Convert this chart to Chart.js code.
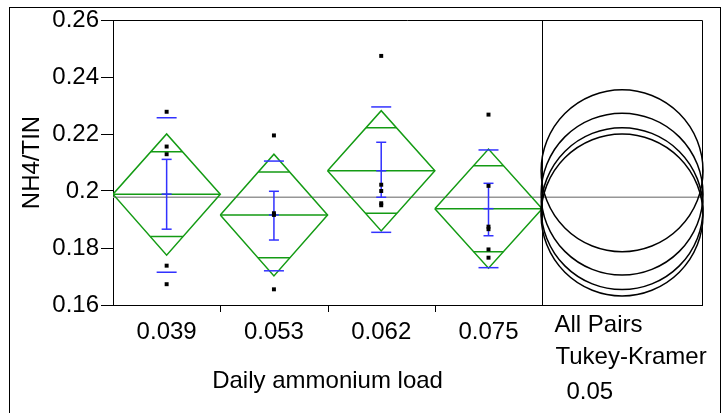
<!DOCTYPE html>
<html>
<head>
<meta charset="utf-8">
<script src="https://cdn.jsdelivr.net/npm/chart.js@4"></script>
<style>
  body { margin: 0; background: #fff; }
  #wrap { width: 725px; height: 413px; }
</style>
</head>
<body>
<div id="wrap"><canvas id="oneway"></canvas></div>
<script>
// values (oneway analysis of NH4/TIN by load)
const categories = ['0.039', '0.053', '0.062', '0.075'];
const yTicks = [0.16, 0.18, 0.2, 0.22, 0.24, 0.26];
const groupMeans = [0.1989, 0.1916, 0.2071, 0.1938];
const ciUpper = [0.2200, 0.2129, 0.2282, 0.2147];
const ciLower = [0.1775, 0.1702, 0.1860, 0.1729];
const overlapUpper = [0.2138, 0.2067, 0.2222, 0.2089];
const overlapLower = [0.1840, 0.1766, 0.1922, 0.1787];
const seUpper = [0.2111, 0.1999, 0.2171, 0.2027];
const seLower = [0.1866, 0.1828, 0.1978, 0.1843];
const sdUpper = [0.2257, 0.2105, 0.2295, 0.2144];
const sdLower = [0.1715, 0.1720, 0.1855, 0.1731];
const observations = [
  [0.2278, 0.2156, 0.2129, 0.1738, 0.1673],
  [0.2195, 0.1922, 0.1916, 0.1655],
  [0.2474, 0.2022, 0.2000, 0.1957, 0.1950],
  [0.2268, 0.2018, 0.1875, 0.1866, 0.1795, 0.1766]
];
const grandMean = 0.1978;
const circleRadius = 0.0284;
const xTitle = 'Daily ammonium load';
const yTitle = 'NH4/TIN';
const panelLabels = ['All Pairs', 'Tukey-Kramer', '0.05'];

const xMax = 5.49; // category area plus comparison-circle panel
const green = 'rgb(20,155,20)';
const blue = 'rgb(50,50,255)';
const font = '"Liberation Sans", Arial, sans-serif';
const fontSize = 24;

const datasets = [];

datasets.push({
  data: [{ x: 0, y: grandMean }, { x: xMax, y: grandMean }],
  showLine: true, borderColor: 'rgb(150,150,150)', borderWidth: 1.5,
  pointRadius: 0, order: 10
});

categories.forEach((c, i) => {
  const m = groupMeans[i];
  datasets.push({
    data: [
      { x: i, y: m }, { x: i + 0.5, y: ciUpper[i] }, { x: i + 1, y: m },
      { x: i + 0.5, y: ciLower[i] }, { x: i, y: m }
    ],
    showLine: true, borderColor: green, borderWidth: 1.5, pointRadius: 0, order: 5
  });
});

const markLines = [];
categories.forEach((c, i) => {
  const m = groupMeans[i];
  const c0 = i + 0.5;
  markLines.push({ x: i, y: m }, { x: i + 1, y: m }, { x: i, y: null });
  const hu = 0.5 * (1 - (overlapUpper[i] - m) / (ciUpper[i] - m));
  const hl = 0.5 * (1 - (m - overlapLower[i]) / (m - ciLower[i]));
  markLines.push({ x: c0 - hu, y: overlapUpper[i] }, { x: c0 + hu, y: overlapUpper[i] }, { x: c0, y: null });
  markLines.push({ x: c0 - hl, y: overlapLower[i] }, { x: c0 + hl, y: overlapLower[i] }, { x: c0, y: null });
});
datasets.push({
  data: markLines, showLine: true, spanGaps: false,
  borderColor: green, borderWidth: 1.5, pointRadius: 0, order: 4
});

const errBars = [];
categories.forEach((c, i) => {
  const c0 = i + 0.5;
  errBars.push({ x: c0, y: seLower[i] }, { x: c0, y: groupMeans[i] }, { x: c0, y: seUpper[i] }, { x: c0, y: null });
});
datasets.push({
  data: errBars, showLine: true, spanGaps: false,
  borderColor: blue, borderWidth: 1.5,
  pointStyle: 'line', pointRadius: 5, pointBorderColor: blue, pointBorderWidth: 1.5, order: 3
});

const sdMarks = [];
categories.forEach((c, i) => {
  sdMarks.push({ x: i + 0.5, y: sdUpper[i] }, { x: i + 0.5, y: sdLower[i] });
});
datasets.push({
  data: sdMarks, showLine: false,
  pointStyle: 'line', pointRadius: 10, pointBorderColor: blue, pointBorderWidth: 1.5, order: 2
});

const obsPts = [];
observations.forEach((vals, i) => vals.forEach(v => obsPts.push({ x: i + 0.5, y: v })));
datasets.push({
  data: obsPts, showLine: false,
  pointStyle: 'rect', pointRadius: 2.8, pointBackgroundColor: '#000', pointBorderWidth: 0, order: 0
});

const px = v => Math.round(v) + 0.5;

const framePlugin = {
  id: 'frame',
  afterDraw(chart) {
    const { ctx, chartArea: a, scales: { x, y } } = chart;
    ctx.save();
    ctx.strokeStyle = '#000';
    ctx.lineWidth = 1;
    ctx.strokeRect(9.5, 7.5, 711, 430);

    ctx.beginPath();
    ctx.moveTo(a.left, px(a.top)); ctx.lineTo(px(a.right), px(a.top));
    ctx.lineTo(px(a.right), a.bottom);
    const sep = px(x.getPixelForValue(categories.length));
    ctx.moveTo(sep, a.top); ctx.lineTo(sep, a.bottom);
    for (let i = 1; i < categories.length; i++) {
      const tx = px(x.getPixelForValue(i));
      ctx.moveTo(tx, a.bottom); ctx.lineTo(tx, a.bottom + 7);
    }
    ctx.stroke();

    // comparison circles
    const cx = x.getPixelForValue((categories.length + xMax) / 2);
    ctx.lineWidth = 1.5;
    groupMeans.forEach(m => {
      const cy = y.getPixelForValue(m);
      const r = y.getPixelForValue(m - circleRadius) - cy;
      ctx.beginPath();
      ctx.arc(cx, cy, r, 0, Math.PI * 2);
      ctx.stroke();
    });

    ctx.fillStyle = '#000';
    ctx.font = fontSize + 'px ' + font;
    ctx.textBaseline = 'middle';
    ctx.textAlign = 'center';
    ctx.fillText(xTitle, x.getPixelForValue(categories.length / 2), 381);
    ctx.textAlign = 'left';
    const ly = [325, 357, 392];
    const lx = [12, 13, 24];
    panelLabels.forEach((t, i) => ctx.fillText(t, sep + lx[i], ly[i]));
    ctx.restore();
  }
};

new Chart(document.getElementById('oneway').getContext('2d'), {
  type: 'scatter',
  data: { datasets: datasets },
  options: {
    responsive: true,
    maintainAspectRatio: false,
    animation: false,
    layout: { padding: { left: 0, right: 23, top: 20, bottom: 0 } },
    scales: {
      x: {
        type: 'linear', min: 0, max: xMax,
        afterBuildTicks: s => { s.ticks = categories.map((c, i) => ({ value: i + 0.5 })); },
        ticks: {
          callback: (v, i) => categories[i], color: '#000',
          font: { family: font, size: fontSize }, padding: 13, autoSkip: false, maxRotation: 0
        },
        grid: { drawOnChartArea: false, drawTicks: false },
        border: { color: '#000', width: 1 },
        afterFit: s => { s.height = 108; }
      },
      y: {
        min: 0.16, max: 0.26,
        afterBuildTicks: s => { s.ticks = yTicks.map(v => ({ value: v })); },
        ticks: {
          callback: v => String(+v.toFixed(2)), color: '#000',
          font: { family: font, size: fontSize }, padding: 2
        },
        grid: { drawOnChartArea: false, tickLength: 12, color: '#000' },
        border: { color: '#000', width: 1 },
        title: {
          display: true, text: yTitle, color: '#000',
          font: { family: font, size: fontSize }, padding: { top: 18, bottom: 0 }
        },
        afterFit: s => { s.width = 113; }
      }
    },
    plugins: {
      legend: { display: false },
      tooltip: { enabled: false }
    }
  },
  plugins: [framePlugin]
});
</script>
</body>
</html>
